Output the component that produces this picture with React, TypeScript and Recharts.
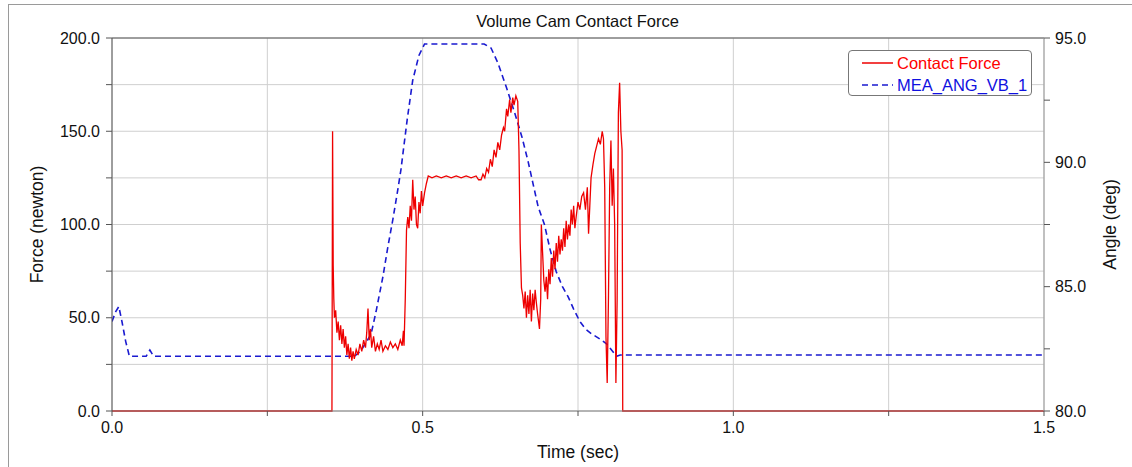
import React from 'react';
import {
  LineChart,
  Line,
  XAxis,
  YAxis,
  CartesianGrid,
  ReferenceLine,
  Label,
} from 'recharts';

// time (sec) / contact force (newton)
const forceTime = [
  0, 0.354, 0.355, 0.356, 0.357, 0.358, 0.36, 0.362, 0.364, 0.366, 0.368, 0.37,
  0.372, 0.374, 0.376, 0.378, 0.38, 0.382, 0.384, 0.386, 0.388, 0.39, 0.393,
  0.396, 0.399, 0.402, 0.405, 0.408, 0.41, 0.412, 0.414, 0.416, 0.418, 0.421,
  0.424, 0.427, 0.43, 0.433, 0.436, 0.44, 0.444, 0.448, 0.452, 0.456, 0.46,
  0.464, 0.467, 0.469, 0.47, 0.472, 0.474, 0.476, 0.478, 0.48, 0.482, 0.484,
  0.486, 0.488, 0.49, 0.492, 0.494, 0.496, 0.498, 0.5, 0.503, 0.506, 0.509,
  0.515, 0.522, 0.53, 0.538, 0.546, 0.554, 0.562, 0.57, 0.578, 0.586, 0.59,
  0.594, 0.597, 0.6, 0.603, 0.606, 0.609, 0.612, 0.615, 0.618, 0.621, 0.624,
  0.627, 0.63, 0.632, 0.635, 0.637, 0.64, 0.642, 0.645, 0.647, 0.65, 0.653,
  0.655, 0.657, 0.659, 0.661, 0.663, 0.665, 0.667, 0.669, 0.671, 0.673, 0.675,
  0.677, 0.679, 0.681, 0.683, 0.685, 0.688, 0.69, 0.691, 0.693, 0.695, 0.697,
  0.699, 0.701, 0.703, 0.705, 0.707, 0.709, 0.711, 0.713, 0.715, 0.717, 0.719,
  0.721, 0.723, 0.725, 0.727, 0.729, 0.731, 0.733, 0.735, 0.737, 0.739, 0.741,
  0.743, 0.745, 0.747, 0.75, 0.753, 0.756, 0.759, 0.762, 0.765, 0.767, 0.769,
  0.771, 0.774, 0.777, 0.78, 0.783, 0.786, 0.789, 0.791, 0.793, 0.795, 0.797,
  0.799, 0.801, 0.803, 0.805, 0.807, 0.809, 0.811, 0.813, 0.815, 0.817, 0.819,
  0.821, 0.822, 1.5,
];
const forceValue = [
  0, 0, 150, 78, 60, 50, 54, 42, 48, 38, 46, 36,
  44, 34, 40, 30, 36, 28, 34, 27, 32, 28, 33,
  30, 36, 32, 38, 34, 42, 55, 38, 44, 34, 40,
  32, 36, 33, 38, 32, 35, 33, 37, 34, 36, 33,
  38, 35, 43, 35, 60, 97, 104, 98, 110, 102, 124,
  108, 115, 100, 98, 112, 106, 118, 110, 117, 122, 126,
  125, 126, 125, 126, 125, 126, 125, 126, 125, 126, 124,
  124, 127, 125, 130, 128, 135, 131, 140, 136, 144, 140,
  148, 152, 150, 162, 158, 167, 160, 168, 164, 169, 166,
  140, 90, 66, 62, 55, 64, 50, 62, 52, 65, 48,
  63, 54, 65, 58, 52, 44, 60, 100, 85, 70, 64,
  72, 60, 76, 68, 82, 72, 86, 76, 90, 80, 94,
  84, 92, 86, 98, 88, 102, 92, 100, 94, 108, 100,
  110, 98, 104, 112, 108, 115, 117, 108, 120, 95, 110,
  125, 132, 138, 142, 146, 143, 150, 146, 120, 40, 15,
  60, 120, 145, 110, 130, 100, 15, 60, 160, 176, 150,
  140, 0, 0,
];

// time (sec) / MEA_ANG_VB_1 (deg)
const angleTime = [
  0, 0.006, 0.011, 0.016, 0.022, 0.028, 0.055, 0.061, 0.067, 0.39, 0.4, 0.41,
  0.417, 0.425, 0.436, 0.444, 0.452, 0.46, 0.465, 0.475, 0.484, 0.494, 0.503,
  0.599, 0.61, 0.621, 0.635, 0.648, 0.66, 0.67, 0.686, 0.696, 0.705, 0.715,
  0.725, 0.734, 0.743, 0.753, 0.762, 0.772, 0.785, 0.796, 0.804, 0.812, 0.818,
  0.828, 1.5,
];
const angleValue = [
  83.6, 84.0, 84.2, 83.6, 82.8, 82.2, 82.2, 82.45, 82.2, 82.2, 82.4, 82.8,
  83.1, 84.0, 85.4, 86.6, 87.7, 88.9, 89.7, 91.7, 93.3, 94.3, 94.76,
  94.76, 94.6, 94.0, 93.0, 92.0, 91.0, 90.0, 88.2, 87.5, 86.5, 85.6,
  85.0, 84.6, 84.1, 83.6, 83.3, 83.1, 82.9, 82.7, 82.45, 82.2, 82.25,
  82.25, 82.25,
];

const timeTicks = [0, 0.25, 0.5, 0.75, 1.0, 1.25, 1.5];
const forceTicks = [0, 25, 50, 75, 100, 125, 150, 175, 200];
const angleTicks = [80, 82.5, 85, 87.5, 90, 92.5, 95];

const forceData = forceTime.map((t, i) => ({ t, f: forceValue[i] }));
const angleData = angleTime.map((t, i) => ({ t, a: angleValue[i] }));

const FONT = '"Liberation Sans", Arial, sans-serif';
const FS = 16;
const LS = 17.5;

const LeftTick = (props: any) => {
  const { x, y, payload } = props;
  if (payload.value % 50 !== 0) return null;
  return (
    <text x={x} y={y} textAnchor='end' dominantBaseline='central' fontSize={FS} fill='#111'>
      {payload.value.toFixed(1)}
    </text>
  );
};

const RightTick = (props: any) => {
  const { x, y, payload } = props;
  if (payload.value % 5 !== 0) return null;
  return (
    <text x={x} y={y} textAnchor='start' dominantBaseline='central' fontSize={FS} fill='#111'>
      {payload.value.toFixed(1)}
    </text>
  );
};

const BottomTick = (props: any) => {
  const { x, y, payload } = props;
  if (Math.round(payload.value * 100) % 50 !== 0) return null;
  return (
    <text x={x} y={y} dy='0.71em' textAnchor='middle' fontSize={FS} fill='#111'>
      {payload.value.toFixed(1)}
    </text>
  );
};

const App = () => {
  return (
    <div style={{ position: 'relative', width: 1132, height: 467, overflow: 'hidden', fontFamily: FONT, background: '#fff' }}>
      <style>{'body{margin:0;overflow:hidden;}'}</style>
      <div
        style={{
          position: 'absolute',
          left: 8,
          top: 4,
          width: 1200,
          height: 600,
          borderLeft: '1px solid #9a9a9a',
          borderTop: '1px solid #9a9a9a',
        }}
      />
      <div
        style={{
          position: 'absolute',
          left: 0,
          width: 1155,
          top: 12,
          textAlign: 'center',
          fontSize: 16.5,
          color: '#111',
        }}
      >
        Volume Cam Contact Force
      </div>
      <div style={{ position: 'absolute', left: 0, top: 0 }}>
        <LineChart
          width={1132}
          height={467}
          margin={{ top: 38, right: 28, left: 52, bottom: 26 }}
          style={{ fontFamily: FONT }}
        >
          <CartesianGrid yAxisId='left' stroke='#cfcfcf' />
          <XAxis
            dataKey='t'
            type='number'
            domain={[0, 1.5]}
            ticks={timeTicks}
            interval={0}
            height={30}
            allowDataOverflow
            tick={<BottomTick />}
            tickSize={5}
            tickMargin={6}
            stroke='#808080'
            tickLine={{ stroke: '#555' }}
          >
            <Label
              content={(p: any) => {
                const vb = p.viewBox;
                return (
                  <text x={vb.x + vb.width / 2} y={452} textAnchor='middle' dominantBaseline='central' fontSize={LS} fill='#111'>
                    Time (sec)
                  </text>
                );
              }}
            />
          </XAxis>
          <YAxis
            yAxisId='left'
            type='number'
            domain={[0, 200]}
            ticks={forceTicks}
            interval={0}
            width={60}
            tick={<LeftTick />}
            tickSize={6}
            tickMargin={6}
            stroke='#555'
          >
            <Label
              content={(p: any) => {
                const vb = p.viewBox;
                const cx = 37;
                const cy = vb.y + vb.height / 2;
                return (
                  <text x={cx} y={cy} transform={`rotate(-90 ${cx} ${cy})`} textAnchor='middle' dominantBaseline='central' fontSize={LS} fill='#111'>
                    Force (newton)
                  </text>
                );
              }}
            />
          </YAxis>
          <YAxis
            yAxisId='right'
            orientation='right'
            type='number'
            domain={[80, 95]}
            ticks={angleTicks}
            interval={0}
            width={60}
            tick={<RightTick />}
            tickSize={6}
            tickMargin={5}
            stroke='#999'
            tickLine={{ stroke: '#555' }}
          >
            <Label
              content={(p: any) => {
                const vb = p.viewBox;
                const cx = 1110;
                const cy = vb.y + vb.height / 2;
                return (
                  <text x={cx} y={cy} transform={`rotate(-90 ${cx} ${cy})`} textAnchor='middle' dominantBaseline='central' fontSize={LS} fill='#111'>
                    Angle (deg)
                  </text>
                );
              }}
            />
          </YAxis>
          <ReferenceLine yAxisId='left' y={200} stroke='#555' strokeWidth={1} />
          <Line
            yAxisId='right'
            data={angleData}
            dataKey='a'
            type='linear'
            stroke='#1a1ad0'
            strokeWidth={1.6}
            strokeDasharray='6 4'
            dot={false}
            activeDot={false}
            isAnimationActive={false}
          />
          <Line
            yAxisId='left'
            data={forceData}
            dataKey='f'
            type='linear'
            stroke='#ee0000'
            strokeWidth={1.3}
            dot={false}
            activeDot={false}
            isAnimationActive={false}
          />
        </LineChart>
      </div>
      <div
        style={{
          position: 'absolute',
          left: 848,
          top: 50,
          width: 184,
          height: 46,
          border: '1px solid #777',
          borderRadius: 4,
          background: '#fff',
          fontSize: 16.5,
          lineHeight: '22px',
          boxSizing: 'border-box',
          paddingTop: 1,
        }}
      >
        <div style={{ display: 'flex', alignItems: 'center', color: '#ff0000' }}>
          <svg width={48} height={22}>
            <line x1={13} y1={11} x2={44} y2={11} stroke='#ee0000' strokeWidth={1.5} />
          </svg>
          <span>Contact Force</span>
        </div>
        <div style={{ display: 'flex', alignItems: 'center', color: '#1010e0' }}>
          <svg width={48} height={22}>
            <line x1={13} y1={11} x2={44} y2={11} stroke='#1a1ad0' strokeWidth={1.5} strokeDasharray='6 4' />
          </svg>
          <span>MEA_ANG_VB_1</span>
        </div>
      </div>
    </div>
  );
};

export default App;
